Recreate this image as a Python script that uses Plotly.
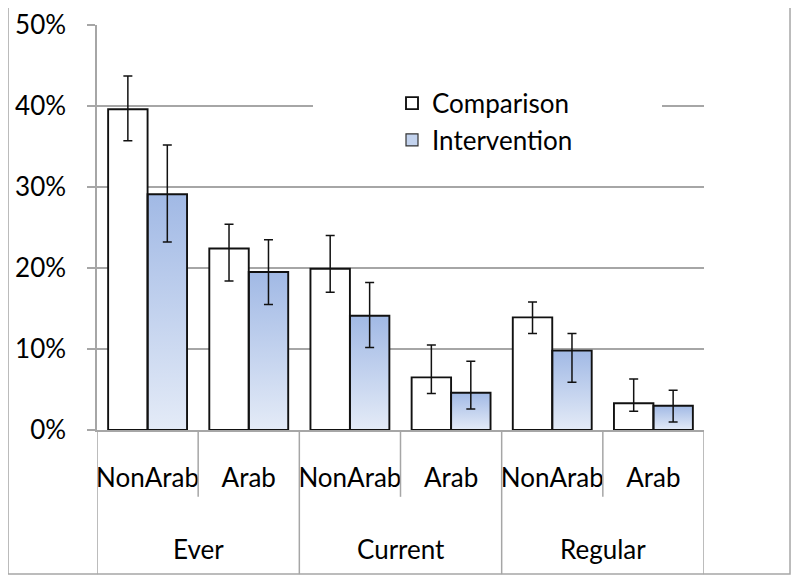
import plotly.graph_objects as go

# ---- data ----
groups = ["Ever", "Current", "Regular"]
subgroups = ["NonArab", "Arab", "NonArab", "Arab", "NonArab", "Arab"]
comparison = [39.6, 22.4, 19.9, 6.5, 13.9, 3.3]
comparison_hi = [43.7, 25.4, 24.0, 10.5, 15.8, 6.3]
comparison_lo = [35.7, 18.4, 17.0, 4.5, 11.9, 2.3]
intervention = [29.1, 19.5, 14.1, 4.6, 9.8, 3.0]
intervention_hi = [35.2, 23.5, 18.2, 8.5, 11.9, 4.9]
intervention_lo = [23.2, 15.5, 10.2, 2.6, 5.9, 1.0]
y_ticks = [0, 10, 20, 30, 40, 50]
y_ticktext = ["0%", "10%", "20%", "30%", "40%", "50%"]

FONT = "Lato"
FS = 26
GRID = "#a6a6a6"
BARGAP = 0.22
bar_w = (1 - BARGAP) / 2
xpos = list(range(len(subgroups)))

fig = go.Figure()

# gradient fill under the intervention bars (base axes, drawn beneath the bars)
for i, v in zip(xpos, intervention):
    fig.add_trace(go.Scatter(
        x=[i, i + bar_w, i + bar_w, i, i], y=[0, 0, v, v, 0],
        mode="lines", fill="toself", line=dict(width=0),
        fillgradient=dict(type="vertical",
                          colorscale=[[0, "#e4ebf7"], [1, "#a1b9e5"]]),
        hoverinfo="skip", showlegend=False, xaxis="x", yaxis="y"))

err_c_plus = [h - v for h, v in zip(comparison_hi, comparison)]
err_c_minus = [v - l for v, l in zip(comparison, comparison_lo)]
err_i_plus = [h - v for h, v in zip(intervention_hi, intervention)]
err_i_minus = [v - l for v, l in zip(intervention, intervention_lo)]

err_style = dict(type="data", symmetric=False, color="#111111", thickness=1.5, width=4.5)
outline = dict(color="#111111", width=1.9)

fig.add_trace(go.Bar(
    name="Comparison", x=xpos, y=comparison,
    marker=dict(color="white", line=outline),
    error_y=dict(array=err_c_plus, arrayminus=err_c_minus, **err_style),
    xaxis="x2", yaxis="y2"))

# legend swatch for the intervention series
fig.add_trace(go.Bar(
    name="Intervention", x=[None], y=[None],
    marker=dict(color="#c3d3ee", line=dict(color="#333333", width=1.2)),
    xaxis="x", yaxis="y"))

fig.add_trace(go.Bar(
    name="Intervention", x=xpos, y=intervention, showlegend=False,
    marker=dict(color="rgba(0,0,0,0)", line=outline),
    error_y=dict(array=err_i_plus, arrayminus=err_i_minus, **err_style),
    xaxis="x2", yaxis="y2"))

# table lines of the category axis
shapes = []
for k in range(len(groups)):
    shapes.append(dict(type="line", xref="x", yref="paper",
                       x0=2 * k + 0.5, x1=2 * k + 0.5, y0=0, y1=-0.165,
                       line=dict(color=GRID, width=1.5)))
for k in range(len(groups) + 1):
    shapes.append(dict(type="line", xref="x", yref="paper",
                       x0=2 * k - 0.5, x1=2 * k - 0.5, y0=0, y1=-0.356,
                       line=dict(color=GRID, width=1.5)))
# outer chart frame
shapes.append(dict(type="rect", xref="paper", yref="paper",
                   x0=-0.1466, x1=1.1417, y0=-0.3556, y1=1.0444,
                   line=dict(color=GRID, width=1.5), fillcolor="rgba(0,0,0,0)"))
# legend box background hiding the gridline behind it
shapes.append(dict(type="rect", xref="x", yref="y", layer="between",
                   x0=1.635, x1=5.085, y0=36, y1=44,
                   line=dict(width=0), fillcolor="white"))

annotations = []
for k, g in enumerate(groups):
    annotations.append(dict(text=g, x=2 * k + 0.5, xref="x", y=-0.294, yref="paper",
                            showarrow=False, xanchor="center", yanchor="middle",
                            font=dict(family=FONT, size=FS, color="black")))

# the page places the figure 8px in from the window's top-left corner
fig.update_layout(
    width=792, height=577,
    margin=dict(l=89, r=96, t=17, b=155, autoexpand=False),
    paper_bgcolor="white", plot_bgcolor="white",
    barmode="group", bargap=BARGAP, bargroupgap=0,
    font=dict(family=FONT, size=FS, color="black"),
    showlegend=True,
    legend=dict(x=0.486, y=0.865, xanchor="left", yanchor="top",
                bgcolor="rgba(0,0,0,0)", font=dict(family=FONT, size=FS, color="black"),
                tracegroupgap=0),
    shapes=shapes, annotations=annotations,
    xaxis=dict(range=[-0.5, 5.5], tickmode="array", tickvals=xpos, ticktext=subgroups,
               showgrid=False, zeroline=False, showline=True, linecolor=GRID, linewidth=1.5,
               ticks="", ticklabelstandoff=24, automargin=False,
               tickfont=dict(family=FONT, size=FS, color="black")),
    yaxis=dict(range=[0, 50], tickmode="array", tickvals=y_ticks, ticktext=y_ticktext,
               showgrid=True, gridcolor=GRID, gridwidth=1.5, zeroline=False,
               showline=True, linecolor=GRID, linewidth=1.5,
               ticks="outside", ticklen=8, tickcolor=GRID, tickwidth=1.5,
               ticklabelstandoff=16, automargin=False,
               tickfont=dict(family=FONT, size=FS, color="black")),
    xaxis2=dict(range=[-0.5, 5.5], overlaying="x", anchor="y2", visible=False),
    yaxis2=dict(range=[0, 50], overlaying="y", anchor="x2", visible=False),
)

fig.write_html("out.html")
